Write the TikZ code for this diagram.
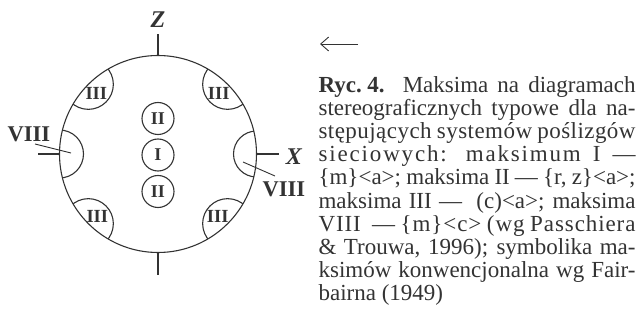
\documentclass[tikz,border=0pt]{standalone}
\usepackage{fontspec}
\setmainfont{Liberation Serif}
\usetikzlibrary{arrows.meta}
\definecolor{ink}{gray}{0.2}
\begin{document}
\begin{tikzpicture}[x=1pt,y=-1pt,line width=1.1pt,draw=ink,text=ink,
  lbl/.style={inner sep=0pt,font=\fontsize{18.5}{18.5}\selectfont\bfseries},
  biglbl/.style={inner sep=0pt,font=\fontsize{22.5}{22.5}\selectfont\bfseries},
  axislbl/.style={inner sep=0pt,font=\fontsize{24}{24}\selectfont\bfseries\itshape},
  maxc/.style={circle,draw,minimum size=32pt,inner sep=0pt,font=\fontsize{18}{18}\selectfont\bfseries},
  capline/.style={anchor=base west,inner sep=0pt,font=\fontsize{23}{23}\selectfont}]
\useasboundingbox (0,0) rectangle (637,323);
\coordinate (C) at (158,154);
\node[circle,draw,minimum size=197pt,inner sep=0pt] (net) at (C) {};
% lunes
\begin{scope}
  \clip (C) circle [radius=98.5pt];
  \draw (88.35,84.35) circle [radius=25pt];
  \draw (227.65,84.35) circle [radius=25pt];
  \draw (88.35,223.65) circle [radius=25pt];
  \draw (227.65,223.65) circle [radius=25pt];
  \draw (59.5,154) circle [radius=24pt];
  \draw (256.5,154) circle [radius=23pt];
\end{scope}
% ticks
\draw (net.north) -- ++(0,-21);
\draw (net.south) -- ++(0,22);
\draw (net.west) -- ++(-21,0);
\draw (net.east) -- ++(22,0);
\node[axislbl] (z) at (158,20) {Z};
\node[axislbl] (x) at (294,157) {X};
% maxima
\node[maxc] (ii1) at (158,118.5) {II};
\node[maxc] (i) at (158,155) {I};
\node[maxc] (ii2) at (158,191.5) {II};
\node[lbl] (iii1) at (96.3,93.5) {III};
\node[lbl] (iii2) at (218.7,93.5) {III};
\node[lbl] (iii3) at (97.3,216) {III};
\node[lbl] (iii4) at (217.7,216) {III};
\node[biglbl] (viiiL) at (29,134) {VIII};
\node[biglbl] (viiiR) at (284,189) {VIII};
\coordinate (aL) at (35,144);
\coordinate (pL) at (71,153);
\coordinate (pR) at (243,162);
\coordinate (aR) at (275,176);
\draw[line width=0.9pt] (aL) -- (pL);
\draw[line width=0.9pt] (pR) -- (aR);
% arrow
\coordinate (ar1) at (358,44);
\coordinate (ar2) at (320,44);
\draw[line width=0.9pt,-{Straight Barb[length=8pt,width=14pt]}] (ar1) -- (ar2);
% caption
\node[capline] (c1) at (318,93) {\makebox[317pt][s]{\textbf{Ryc.\hspace{5.5pt}4.}\ \ Maksima na diagramach}};
\node[capline] (c2) at (318,116) {\makebox[317pt][s]{stereograficznych typowe dla na-}};
\node[capline] (c3) at (318,139) {\makebox[317pt][s]{\addfontfeature{LetterSpace=2}stępujących systemów poślizgów}};
\node[capline] (c4) at (318,162) {\makebox[317pt][s]{\addfontfeature{LetterSpace=8}sieciowych: maksimum I —}};
\node[capline] (c5) at (318,185) {\makebox[317pt][s]{\{m\}<a>; maksima II — \{r, z\}<a>;}};
\node[capline] (c6) at (318,208) {\makebox[317pt][s]{maksima III —\ \ (c)<a>; maksima}};
\node[capline] (c7) at (318,231) {\makebox[317pt][s]{\addfontfeature{LetterSpace=4}VIII\ \ — \{m\}<c> (wg Passchiera}};
\node[capline] (c8) at (318,254) {\makebox[317pt][s]{\& Trouwa, 1996); symbolika ma-}};
\node[capline] (c9) at (318,277) {\makebox[317pt][s]{ksimów konwencjonalna wg Fair-}};
\node[capline] (c10) at (318,300) {bairna (1949)};
\end{tikzpicture}
\end{document}
